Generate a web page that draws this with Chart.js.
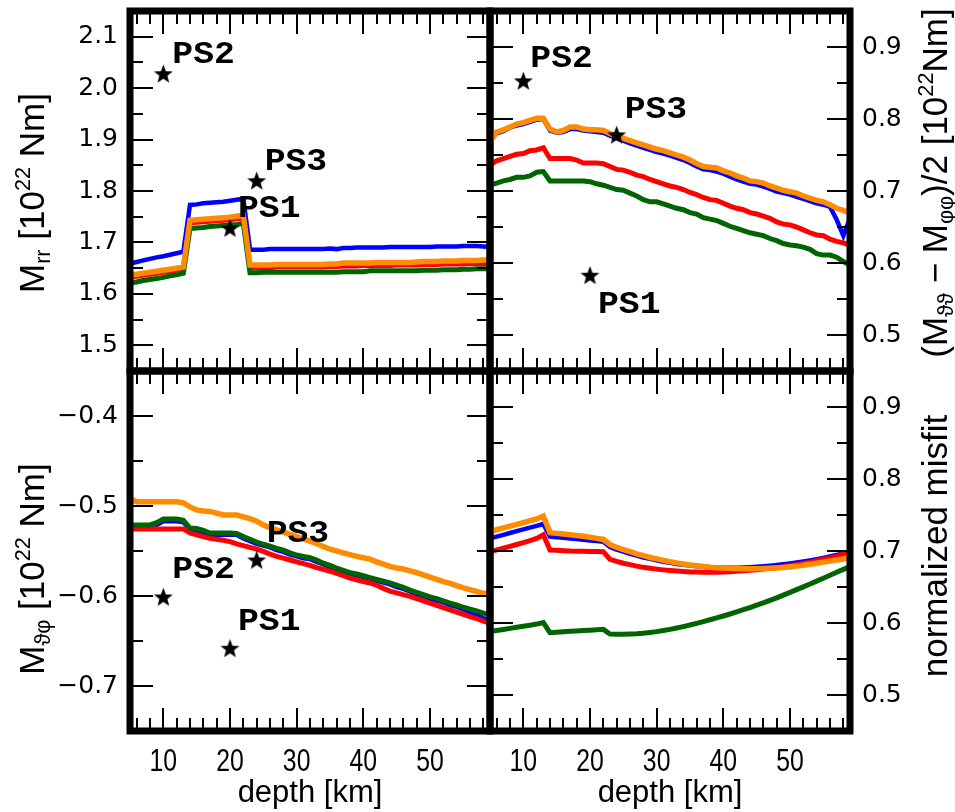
<!DOCTYPE html>
<html>
<head>
<meta charset="utf-8">
<script src="https://cdn.jsdelivr.net/npm/chart.js@4.4.1/dist/chart.umd.min.js"></script>
<style>
  html, body { margin: 0; padding: 0; background: #ffffff; }
  #wrap { position: relative; width: 955px; height: 812px; overflow: hidden; background: #ffffff; }
  #wrap canvas { position: absolute; left: 0; top: 0; }
  .yt {
    position: absolute;
    transform: translate(-50%, -50%) rotate(-90deg);
    font-family: "Liberation Sans", Arial, sans-serif;
    font-size: 35px;
    line-height: 1;
    white-space: nowrap;
    color: #000;
  }
  .yt sub { font-size: 0.62em; vertical-align: -0.28em; line-height: 0; }
  .yt sup { font-size: 0.62em; vertical-align: 0.62em; line-height: 0; }
</style>
</head>
<body>
<div id="wrap">
  <canvas id="cMrr" width="955" height="812"></canvas>
  <canvas id="cDiff" width="955" height="812"></canvas>
  <canvas id="cMtp" width="955" height="812"></canvas>
  <canvas id="cMisfit" width="955" height="812"></canvas>
  <div class="yt" style="left:31px; top:193px;">M<sub>rr</sub> [10<sup>22</sup> Nm]</div>
  <div class="yt" style="left:31px; top:569px;">M<sub>ϑφ</sub> [10<sup>22</sup> Nm]</div>
  <div class="yt" style="left:934px; top:183px;">(M<sub>ϑϑ</sub> − M<sub>φφ</sub>)/2 [10<sup>22</sup>Nm]</div>
  <div class="yt" style="left:934px; top:546px;">normalized misfit</div>
</div>
<script>
// ---- depth grid (km) and tick labels ----
const depthKm = [5,6,7,8,9,10,11,12,13,14,15,16,17,18,19,20,21,22,23,24,25,26,27,28,29,30,31,32,
  33,34,35,36,37,38,39,40,41,42,43,44,45,46,47,48,49,50,51,52,53,54,55,56,57,58,59];
const depthTicks = [10, 20, 30, 40, 50];
const mrrTicks = [1.5, 1.6, 1.7, 1.8, 1.9, 2.0, 2.1];
const diffTicks = [0.5, 0.6, 0.7, 0.8, 0.9];
const mtpTicks = [-0.7, -0.6, -0.5, -0.4];
const misfitTicks = [0.5, 0.6, 0.7, 0.8, 0.9];

// ---- M_rr [10^22 Nm] ----
const mrrBlue = [1.659,1.662,1.665,1.668,1.671,1.673,1.676,1.679,1.682,
  1.773,1.774,1.776,1.777,1.778,1.779,1.781,1.783,1.785,
  1.686,1.686,1.686,1.687,1.687,1.687,1.687,1.687,1.687,1.687,1.687,1.687,1.688,1.687,
  1.689,1.689,1.690,1.690,1.690,1.690,1.690,1.691,1.691,1.691,1.691,1.691,1.691,1.691,
  1.692,1.692,1.692,1.692,1.693,1.693,1.693,1.692,1.691];
const mrrOrange = [1.636,1.638,1.640,1.642,1.644,1.646,1.648,1.650,1.652,
  1.743,1.744,1.745,1.746,1.747,1.748,1.749,1.751,1.753,
  1.656,1.656,1.656,1.656,1.657,1.657,1.657,1.657,1.657,1.657,1.657,1.657,1.658,1.658,
  1.660,1.660,1.660,1.660,1.660,1.661,1.661,1.661,1.661,1.661,1.661,1.662,1.663,1.663,
  1.663,1.664,1.664,1.664,1.665,1.665,1.665,1.666,1.666];
const mrrRed = [1.632,1.634,1.636,1.638,1.640,1.642,1.644,1.646,1.648,
  1.738,1.739,1.740,1.741,1.742,1.743,1.744,1.746,1.748,
  1.651,1.651,1.651,1.651,1.652,1.652,1.652,1.652,1.652,1.652,1.652,1.652,1.653,1.653,
  1.654,1.654,1.654,1.655,1.655,1.655,1.655,1.655,1.656,1.656,1.656,1.656,1.657,1.657,
  1.657,1.658,1.658,1.658,1.658,1.659,1.659,1.659,1.659];
const mrrGreen = [1.621,1.623,1.626,1.628,1.630,1.632,1.635,1.637,1.640,
  1.727,1.728,1.729,1.731,1.732,1.733,1.734,1.735,1.737,
  1.641,1.641,1.642,1.642,1.642,1.642,1.642,1.642,1.642,1.642,1.642,1.642,1.642,1.642,
  1.643,1.643,1.643,1.643,1.645,1.645,1.645,1.645,1.645,1.645,1.645,1.645,1.646,1.646,
  1.646,1.647,1.647,1.647,1.648,1.648,1.649,1.649,1.649];

// ---- (M_tt - M_pp)/2 [10^22 Nm] ----
const diffBlue = [0.778,0.780,0.783,0.788,0.791,0.793,0.796,0.799,0.800,
  0.784,0.781,0.782,0.786,0.786,0.784,0.783,0.782,0.781,
  0.777,0.773,0.770,0.766,0.763,0.760,0.757,0.754,0.752,0.749,0.746,0.743,0.739,0.734,
  0.730,0.729,0.727,0.724,0.720,0.716,0.713,0.710,0.709,0.706,0.703,0.699,0.697,0.695,
  0.692,0.689,0.686,0.683,0.681,0.678,0.660,0.638,0.662];
const diffOrange = [0.768,0.782,0.785,0.789,0.793,0.795,0.798,0.801,0.801,
  0.786,0.782,0.784,0.789,0.789,0.786,0.785,0.785,0.784,
  0.780,0.776,0.773,0.770,0.767,0.764,0.761,0.758,0.756,0.753,0.750,0.747,0.743,0.738,
  0.734,0.733,0.732,0.728,0.725,0.721,0.718,0.714,0.713,0.711,0.707,0.704,0.701,0.699,
  0.697,0.693,0.690,0.687,0.685,0.681,0.676,0.673,0.669];
const diffRed = [0.736,0.742,0.745,0.748,0.751,0.752,0.756,0.757,0.760,
  0.745,0.745,0.745,0.745,0.743,0.739,0.739,0.739,0.738,
  0.734,0.730,0.729,0.726,0.722,0.720,0.716,0.713,0.710,0.707,0.705,0.702,0.698,0.695,
  0.691,0.688,0.687,0.683,0.679,0.676,0.674,0.670,0.668,0.665,0.662,0.657,0.654,0.653,
  0.650,0.646,0.642,0.639,0.638,0.633,0.630,0.628,0.625];
const diffGreen = [0.708,0.711,0.714,0.716,0.719,0.719,0.721,0.726,0.727,
  0.714,0.714,0.714,0.714,0.714,0.714,0.713,0.710,0.708,
  0.705,0.702,0.701,0.697,0.693,0.688,0.685,0.685,0.682,0.679,0.676,0.674,0.670,0.668,
  0.663,0.661,0.659,0.655,0.651,0.648,0.645,0.642,0.640,0.638,0.634,0.631,0.627,0.625,
  0.624,0.622,0.619,0.613,0.611,0.611,0.608,0.602,0.597];

// ---- M_tp [10^22 Nm] ----
const mtpBlue = [-0.523,-0.523,-0.523,-0.523,-0.521,-0.517,-0.517,-0.517,-0.518,
  -0.526,-0.527,-0.529,-0.532,-0.532,-0.532,-0.532,-0.532,-0.536,
  -0.539,-0.542,-0.544,-0.546,-0.549,-0.551,-0.554,-0.556,-0.558,-0.559,-0.562,-0.565,-0.568,-0.571,
  -0.573,-0.576,-0.577,-0.579,-0.581,-0.583,-0.585,-0.587,-0.590,-0.592,-0.595,-0.598,-0.600,-0.603,
  -0.605,-0.607,-0.610,-0.612,-0.615,-0.618,-0.621,-0.6245,-0.627];
const mtpOrange = [-0.4915,-0.4952,-0.4952,-0.4952,-0.4952,-0.4952,-0.4952,-0.4952,-0.4965,
  -0.501,-0.5044,-0.5055,-0.506,-0.508,-0.510,-0.510,-0.510,-0.512,
  -0.514,-0.517,-0.521,-0.524,-0.5266,-0.529,-0.5315,-0.534,-0.5365,-0.539,-0.542,-0.545,-0.548,-0.550,
  -0.552,-0.554,-0.556,-0.5575,-0.559,-0.562,-0.5645,-0.567,-0.569,-0.570,-0.572,-0.574,-0.5765,-0.579,
  -0.5815,-0.584,-0.586,-0.5885,-0.591,-0.593,-0.595,-0.597,-0.598];
const mtpRed = [-0.5255,-0.5255,-0.5255,-0.5255,-0.5255,-0.5255,-0.5255,-0.5255,-0.5255,
  -0.530,-0.532,-0.534,-0.536,-0.537,-0.538,-0.5395,-0.542,-0.544,
  -0.546,-0.548,-0.5505,-0.5535,-0.556,-0.558,-0.560,-0.562,-0.564,-0.566,-0.5685,-0.5705,-0.5725,-0.575,
  -0.5775,-0.580,-0.582,-0.584,-0.5855,-0.588,-0.5915,-0.5945,-0.5965,-0.5985,-0.6005,-0.603,-0.6055,-0.608,
  -0.6105,-0.613,-0.6155,-0.618,-0.6205,-0.623,-0.625,-0.628,-0.630];
const mtpGreen = [-0.521,-0.521,-0.521,-0.521,-0.5185,-0.5145,-0.5145,-0.5145,-0.516,
  -0.5245,-0.525,-0.527,-0.530,-0.530,-0.530,-0.530,-0.5305,-0.534,
  -0.537,-0.540,-0.5425,-0.5445,-0.547,-0.549,-0.552,-0.5545,-0.556,-0.5575,-0.560,-0.5635,-0.566,-0.569,
  -0.5715,-0.574,-0.5755,-0.5775,-0.5795,-0.5815,-0.5835,-0.5855,-0.588,-0.5905,-0.5935,-0.596,-0.5985,-0.601,
  -0.603,-0.6055,-0.608,-0.610,-0.6125,-0.6145,-0.6165,-0.619,-0.6205];

// ---- normalized misfit ----
const misfitBlue = [0.7176,0.720,0.7225,0.725,0.7275,0.730,0.7325,0.735,0.7375,
  0.720,0.7192,0.7185,0.7175,0.7165,0.7155,0.7145,0.7138,0.713,
  0.7055,0.702,0.699,0.6962,0.6935,0.691,0.689,0.687,0.685,0.6835,0.682,0.6808,0.6797,0.6788,
  0.678,0.6774,0.677,0.6768,0.6767,0.6768,0.677,0.6774,0.678,0.6787,0.6795,0.6805,0.6815,0.6827,
  0.684,0.6855,0.687,0.6887,0.6905,0.6925,0.6945,0.6965,0.6985];
const misfitOrange = [0.7268,0.7295,0.732,0.7345,0.737,0.7395,0.742,0.7445,0.7485,
  0.7255,0.7245,0.7235,0.7225,0.7215,0.7205,0.719,0.7175,0.716,
  0.709,0.705,0.702,0.699,0.696,0.6935,0.691,0.689,0.687,0.685,0.6835,0.682,0.6805,0.6795,
  0.6785,0.6775,0.6768,0.6763,0.676,0.6757,0.6755,0.6754,0.6754,0.6756,0.676,0.6765,0.6772,0.678,
  0.679,0.6802,0.6815,0.683,0.6845,0.686,0.6875,0.689,0.6905];
const misfitRed = [0.699,0.7015,0.704,0.7065,0.709,0.7115,0.7145,0.7175,0.7225,
  0.7014,0.701,0.7005,0.700,0.6998,0.6996,0.6994,0.6992,0.699,
  0.6884,0.6855,0.683,0.681,0.679,0.6773,0.676,0.6748,0.6738,0.673,0.6723,0.6716,0.671,0.6707,
  0.6705,0.6704,0.6705,0.6708,0.6712,0.6718,0.6725,0.6732,0.674,0.675,0.676,0.677,0.6783,0.6797,
  0.6812,0.6828,0.6845,0.6865,0.6885,0.6905,0.6925,0.696,0.6985];
const misfitGreen = [0.588,0.5895,0.591,0.5925,0.594,0.5955,0.597,0.5985,0.6005,
  0.5866,0.5872,0.5878,0.5884,0.589,0.5895,0.590,0.5905,0.5912,
  0.5847,0.5845,0.5845,0.5847,0.585,0.5858,0.5868,0.588,0.5895,0.5912,0.593,0.595,0.5972,0.5995,
  0.602,0.6045,0.607,0.6097,0.6125,0.6155,0.6185,0.6215,0.6247,0.628,0.6315,0.635,0.6388,0.6425,
  0.6463,0.6502,0.6542,0.6582,0.6622,0.6663,0.6705,0.6745,0.6785];

// ---- reference point sources ----
const starNames = ['PS1', 'PS2', 'PS3'];
const starDepth = [20, 10, 24];
const mrrStar = [1.728, 2.028, 1.820];
const diffStar = [0.583, 0.853, 0.778];
const mtpStar = [-0.658, -0.601, -0.560];

// ---------------------------------------------------------------
const CANVAS_W = 955, CANVAS_H = 812;
const Y_AXIS_W = 80, X_AXIS_H = 81;
const COLORS = { blue: '#0000ff', orange: '#ff8c00', red: '#ff0000', green: '#006400' };

function fmtTick(v) {
  const s = Math.abs(v).toFixed(1);
  return v < 0 ? '\u2212' + s : s;
}

function starImage(size) {
  const c = document.createElement('canvas');
  c.width = c.height = size;
  const g = c.getContext('2d');
  const cx = size / 2, cy = size / 2 + 0.8, R = size / 2 - 0.5, r = R * 0.42;
  g.beginPath();
  for (let i = 0; i < 10; i++) {
    const ang = -Math.PI / 2 + i * Math.PI / 5;
    const rad = i % 2 ? r : R;
    g.lineTo(cx + rad * Math.cos(ang), cy + rad * Math.sin(ang));
  }
  g.closePath();
  g.fillStyle = '#000';
  g.fill();
  return c;
}
const STAR = starImage(21);

function steps(min, max, step) {
  const out = [];
  const n0 = Math.ceil(min / step - 1e-9), n1 = Math.floor(max / step + 1e-9);
  for (let n = n0; n <= n1; n++) out.push(+(n * step).toFixed(6));
  return out;
}

// frame around the plotting area with inward ticks on all four sides
const framePlugin = {
  id: 'panelFrame',
  afterDatasetsDraw(chart, args, opts) {
    const { ctx, chartArea: a } = chart;
    const x = chart.scales.x, y = chart.scales.y;
    const MAJ = 23, MIN = 13;
    ctx.save();
    ctx.strokeStyle = '#000';
    ctx.lineWidth = 2;
    ctx.lineCap = 'butt';
    const seg = (x1, y1, x2, y2) => { ctx.beginPath(); ctx.moveTo(x1, y1); ctx.lineTo(x2, y2); ctx.stroke(); };
    const isMajor = (v, list) => list.some(t => Math.abs(t - v) < 1e-6);
    for (const v of steps(x.min, x.max, opts.xMinorStep)) {
      const px = Math.round(x.getPixelForValue(v));
      if (px <= a.left + 1 || px >= a.right - 1) continue;
      const len = isMajor(v, opts.xMajor) ? MAJ : MIN;
      seg(px, a.top, px, a.top + len);
      seg(px, a.bottom, px, a.bottom - len);
    }
    for (const v of steps(y.min, y.max, opts.yMinorStep)) {
      const py = Math.round(y.getPixelForValue(v));
      if (py <= a.top + 1 || py >= a.bottom - 1) continue;
      const len = isMajor(v, opts.yMajor) ? MAJ : MIN;
      seg(a.left, py, a.left + len, py);
      seg(a.right, py, a.right - len, py);
    }
    ctx.lineWidth = 7;
    ctx.lineJoin = 'miter';
    ctx.strokeRect(a.left, a.top, a.right - a.left, a.bottom - a.top);
    ctx.restore();
  }
};

// depth tick labels under the bottom panels, set in a condensed face
const depthLabelPlugin = {
  id: 'depthLabels',
  afterDraw(chart, args, opts) {
    if (!opts.show) return;
    const { ctx, chartArea: a } = chart;
    const x = chart.scales.x;
    ctx.save();
    ctx.fillStyle = '#000';
    ctx.font = '31px "Liberation Sans", Arial, sans-serif';
    ctx.textAlign = 'center';
    ctx.textBaseline = 'alphabetic';
    for (const v of depthTicks) {
      ctx.save();
      ctx.translate(x.getPixelForValue(v), a.bottom + 40);
      ctx.scale(0.8, 1);
      ctx.fillText(String(v), 0, 0);
      ctx.restore();
    }
    ctx.restore();
  }
};

// text labels next to the point-source stars
const starLabelPlugin = {
  id: 'starLabels',
  afterDatasetsDraw(chart, args, opts) {
    if (!opts.offsets) return;
    const meta = chart.getDatasetMeta(0);
    const { ctx } = chart;
    ctx.save();
    ctx.fillStyle = '#000';
    ctx.font = 'bold 31px "Liberation Mono", "DejaVu Sans Mono", monospace';
    ctx.textBaseline = 'alphabetic';
    ctx.textAlign = 'left';
    meta.data.forEach((pt, i) => {
      const [dx, dy] = opts.offsets[i];
      ctx.save();
      ctx.translate(pt.x + dx, pt.y + dy);
      ctx.scale(1.12, 1);
      ctx.fillText(opts.names[i], 0, 0);
      ctx.restore();
    });
    ctx.restore();
  }
};

function lineSet(label, values, color, width) {
  return {
    type: 'line', label,
    data: values.map((v, i) => ({ x: depthKm[i], y: v })),
    borderColor: color, backgroundColor: color, borderWidth: width,
    pointRadius: 0, tension: 0, fill: false, clip: 0,
    borderJoinStyle: 'miter', borderCapStyle: 'butt'
  };
}

// keep the plotting area exactly where the layout padding puts it
function noEdgePadding(s) {
  s.paddingTop = 0; s.paddingBottom = 0; s.paddingLeft = 0; s.paddingRight = 0;
}

function makePanel(id, o) {
  const pad = {
    top: o.area.top,
    left: o.yPos === 'left' ? o.area.left - Y_AXIS_W : o.area.left,
    right: o.yPos === 'right' ? CANVAS_W - o.area.right - Y_AXIS_W : CANVAS_W - o.area.right,
    bottom: o.showX ? CANVAS_H - o.area.bottom - X_AXIS_H : CANVAS_H - o.area.bottom
  };
  const datasets = [];
  if (o.stars) {
    datasets.push({
      type: 'scatter', label: 'point sources',
      data: starDepth.map((d, i) => ({ x: d, y: o.stars[i] })),
      pointStyle: STAR, pointRadius: 10, showLine: false, clip: false
    });
  }
  datasets.push(lineSet('orange', o.series.orange, COLORS.orange, 5.5));
  datasets.push(lineSet('green', o.series.green, COLORS.green, 5));
  datasets.push(lineSet('red', o.series.red, COLORS.red, 5));
  datasets.push(lineSet('blue', o.series.blue, COLORS.blue, 4.5));

  return new Chart(document.getElementById(id), {
    data: { datasets },
    options: {
      responsive: false, animation: false, events: [],
      layout: { padding: pad },
      plugins: {
        legend: { display: false }, tooltip: { enabled: false },
        panelFrame: { xMajor: depthTicks, xMinorStep: 2, yMajor: o.yTicks, yMinorStep: 0.05 },
        depthLabels: { show: o.showX },
        starLabels: { names: starNames, offsets: o.labelOffsets }
      },
      scales: {
        x: {
          type: 'linear', min: 5, max: 59, display: o.showX, position: 'bottom',
          afterBuildTicks: s => { s.ticks = depthTicks.map(v => ({ value: v })); },
          afterFit: s => { noEdgePadding(s); s.height = o.showX ? X_AXIS_H : 0; },
          grid: { display: false, drawTicks: false }, border: { display: false },
          ticks: { display: false },
          title: {
            display: true, text: 'depth [km]', color: '#000',
            font: { family: '"Liberation Sans", Arial, sans-serif', size: 31 },
            padding: { top: 0, bottom: 0 }
          }
        },
        y: {
          type: 'linear', position: o.yPos, min: o.yMin, max: o.yMax,
          afterBuildTicks: s => { s.ticks = o.yTicks.map(v => ({ value: v })); },
          afterFit: s => { noEdgePadding(s); s.width = Y_AXIS_W; },
          grid: { display: false, drawTicks: false }, border: { display: false },
          ticks: {
            padding: 12, color: '#000',
            font: { family: '"DejaVu Sans", sans-serif', size: 25 },
            callback: v => fmtTick(v)
          }
        }
      }
    },
    plugins: [framePlugin, depthLabelPlugin, starLabelPlugin]
  });
}

makePanel('cMrr', {
  area: { left: 130, right: 490, top: 11, bottom: 371 },
  yPos: 'left', yMin: 1.45, yMax: 2.15, yTicks: mrrTicks, showX: false,
  series: { blue: mrrBlue, orange: mrrOrange, red: mrrRed, green: mrrGreen },
  stars: mrrStar, labelOffsets: [[8, -11], [9, -11], [8, -11]]
});
makePanel('cDiff', {
  area: { left: 490, right: 850, top: 11, bottom: 371 },
  yPos: 'right', yMin: 0.45, yMax: 0.95, yTicks: diffTicks, showX: false,
  series: { blue: diffBlue, orange: diffOrange, red: diffRed, green: diffGreen },
  stars: diffStar, labelOffsets: [[8, 38], [7, -14], [8, -17]]
});
makePanel('cMtp', {
  area: { left: 130, right: 490, top: 371, bottom: 731 },
  yPos: 'left', yMin: -0.75, yMax: -0.35, yTicks: mtpTicks, showX: true,
  series: { blue: mtpBlue, orange: mtpOrange, red: mtpRed, green: mtpGreen },
  stars: mtpStar, labelOffsets: [[8, -18], [9, -19], [10, -18]]
});
makePanel('cMisfit', {
  area: { left: 490, right: 850, top: 371, bottom: 731 },
  yPos: 'right', yMin: 0.45, yMax: 0.95, yTicks: misfitTicks, showX: true,
  series: { blue: misfitBlue, orange: misfitOrange, red: misfitRed, green: misfitGreen },
  stars: null, labelOffsets: null
});
</script>
</body>
</html>
